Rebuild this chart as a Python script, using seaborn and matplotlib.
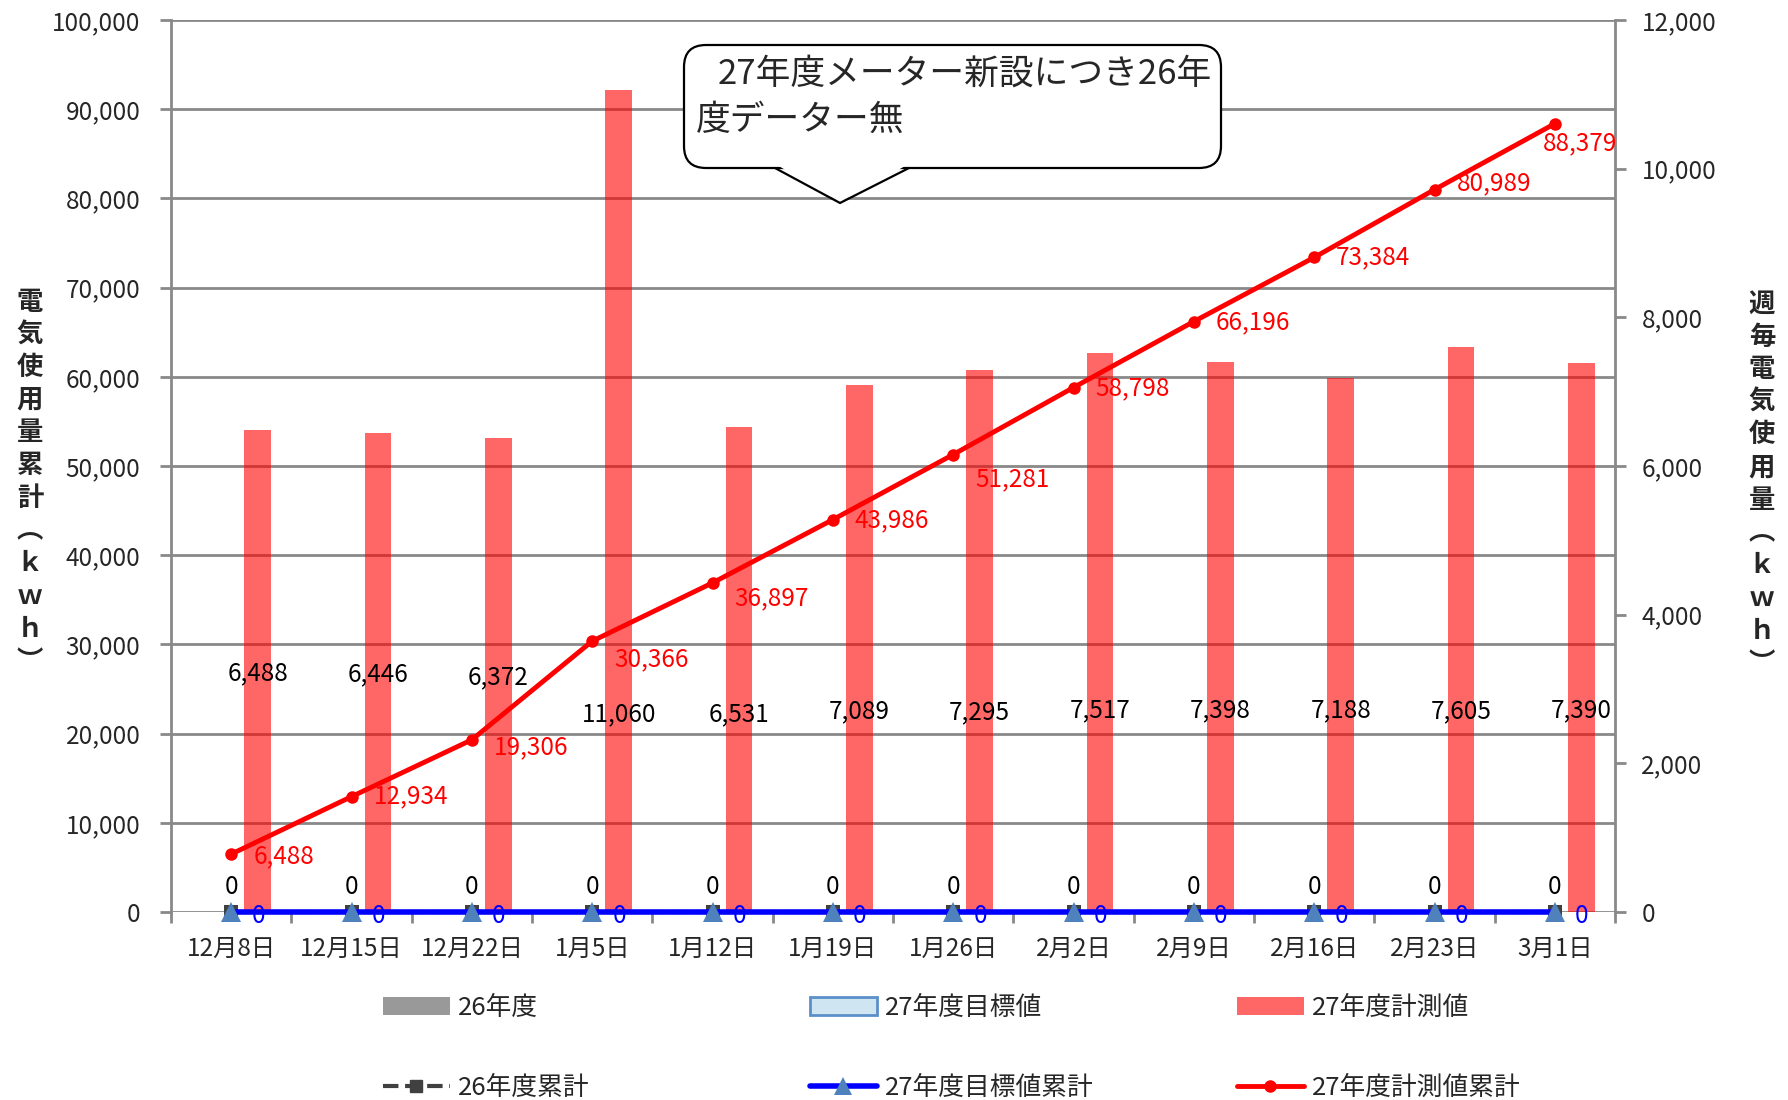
import numpy as np
import pandas as pd
import matplotlib
matplotlib.use("Agg")
import matplotlib.pyplot as plt
import seaborn as sns
from matplotlib.patches import Patch, FancyBboxPatch, Polygon
from matplotlib.lines import Line2D
from matplotlib.ticker import FuncFormatter, FixedLocator

# ---------------- data ----------------
dates = ["12月8日", "12月15日", "12月22日", "1月5日", "1月12日", "1月19日",
         "1月26日", "2月2日", "2月9日", "2月16日", "2月23日", "3月1日"]
weekly_26 = [0] * 12                      # 26年度
weekly_27_target = [0] * 12               # 27年度目標値
weekly_27_measured = [6488, 6446, 6372, 11060, 6531, 7089, 7295, 7517, 7398, 7188, 7605, 7390]
cum_26 = [0] * 12                         # 26年度累計
cum_27_target = [0] * 12                  # 27年度目標値累計
cum_27_measured = [6488, 12934, 19306, 30366, 36897, 43986, 51281, 58798, 66196, 73384, 80989, 88379]

bar_series = ["26年度", "27年度目標値", "27年度計測値"]
line_series = ["26年度累計", "27年度目標値累計", "27年度計測値累計"]
callout_lines = ["27年度メーター新設につき26年", "度データー無"]
left_label = "電気使用量累計︵ｋｗｈ︶"
right_label = "週毎電気使用量︵ｋｗｈ︶"

# layout helpers (label placement, not data)
weekly_label_y = [26800, 26700, 26350, 22200, 22200, 22500, 22420, 22600, 22600, 22600, 22500, 22600]
cum_label_dx = [22, 22, 22, 22, 22, 22, 22, 22, 22, 22, 22, -12]
cum_label_dy = [2, 0, 7, 18, 15, 1, 25, 1, 1, 0, -6, 20]

# ---------------- style ----------------
sns.set_style("white")
plt.rcParams["font.family"] = ["Noto Sans CJK JP", "DejaVu Sans"]
GRID = "#898989"
FS = 17.5
W, H = 1788, 1100
fig = plt.figure(figsize=(W / 100, H / 100), dpi=100)

def fx(px):
    return px / W

def fy(py):
    return 1 - py / H

L, R, T, B = 171, 1615, 20, 912
ax = fig.add_axes([fx(L), fy(B), fx(R - L), (B - T) / H])
ax2 = ax.twinx()
ax3 = ax.twinx()

n = len(dates)
xpos = np.arange(n)

# ---------------- bars (right axis) ----------------
df = pd.DataFrame({
    "date": dates * 3,
    "value": weekly_26 + weekly_27_target + weekly_27_measured,
    "series": [bar_series[0]] * n + [bar_series[1]] * n + [bar_series[2]] * n,
})
sns.barplot(data=df, x="date", y="value", hue="series", hue_order=bar_series,
            palette=["#999999", "#CFE6F2", "#FF0000"], saturation=1, width=0.66, gap=0,
            alpha=0.6, ax=ax2, legend=False, linewidth=0)
ax2.set_ylim(0, 12000)
ax2.set_yticks(np.arange(0, 12001, 2000))
ax2.yaxis.set_major_formatter(FuncFormatter(lambda v, p: f"{int(v):,}"))
ax2.set_xlabel("")
ax2.set_ylabel("")
ax2.tick_params(axis="y", direction="out", length=8, width=2, color=GRID, pad=11,
                labelsize=FS, right=True, labelright=True, left=False, labelleft=False)
for s in ax2.spines.values():
    s.set_visible(False)

# ---------------- left axis ----------------
ax.set_ylim(0, 100000)
ax.set_yticks(np.arange(0, 100001, 10000))
ax.yaxis.set_major_formatter(FuncFormatter(lambda v, p: f"{int(v):,}"))
ax.yaxis.grid(True, color=GRID, linewidth=2)
ax.xaxis.grid(False)
ax.set_axisbelow(True)
ax.tick_params(axis="y", direction="out", length=8, width=2, color=GRID, pad=14, labelsize=FS)
for side in ["top", "bottom"]:
    ax.spines[side].set_visible(False)
for side in ["left", "right"]:
    ax.spines[side].set_color(GRID)
    ax.spines[side].set_linewidth(2)
ax.set_xlim(-0.5, n - 0.5)
ax.xaxis.set_major_locator(FixedLocator(xpos))
ax.set_xticklabels(dates)
ax.xaxis.set_minor_locator(FixedLocator(np.arange(-0.5, n, 1.0)))
ax.tick_params(axis="x", which="major", length=0, pad=17, labelsize=FS)
ax.tick_params(axis="x", which="minor", direction="out", length=8, width=2, color=GRID, bottom=True)

# ---------------- lines (top axis, left scale) ----------------
ax3.set_ylim(0, 100000)
ax3.set_xlim(-0.5, n - 0.5)
ax3.yaxis.set_visible(False)
for s in ax3.spines.values():
    s.set_visible(False)

sns.lineplot(x=xpos, y=cum_26, ax=ax3, color="#404040", linestyle="--", linewidth=3,
             marker="s", markersize=10, markeredgewidth=0, clip_on=False)
sns.lineplot(x=xpos, y=cum_27_target, ax=ax3, color="#0000FF", linewidth=4,
             marker="^", markersize=15, markerfacecolor="#4F81BD", markeredgewidth=0, clip_on=False)
sns.lineplot(x=xpos, y=cum_27_measured, ax=ax3, color="#FF0000", linewidth=3.5,
             marker="o", markersize=9, markeredgewidth=0, clip_on=False)

# cumulative labels
for i in range(n):
    ax3.annotate(f"{cum_27_measured[i]:,}", (xpos[i], cum_27_measured[i]),
                 xytext=(cum_label_dx[i], -cum_label_dy[i]), textcoords="offset pixels",
                 ha="left", va="center", color="#FF0000", fontsize=FS)
    ax3.annotate(f"{cum_26[i]:,}", (xpos[i], cum_26[i]), xytext=(0, 25),
                 textcoords="offset pixels", ha="center", va="center", color="black", fontsize=FS)
    ax3.annotate(f"{cum_27_target[i]:,}", (xpos[i], cum_27_target[i]), xytext=(27, -4),
                 textcoords="offset pixels", ha="center", va="center", color="#0000FF", fontsize=FS)

# weekly measured labels (centred over measured bars)
meas_bars = ax2.containers[2]
for i, bar in enumerate(meas_bars):
    xc = bar.get_x() + bar.get_width() / 2
    ax3.text(xc, weekly_label_y[i], f"{weekly_27_measured[i]:,}", ha="center", va="center",
             color="black", fontsize=FS)

# ---------------- axis titles (stacked vertical) ----------------
fig.text(fx(30), fy(482), "\n".join(left_label), ha="center", va="center",
         fontsize=19, fontweight="bold", linespacing=1.27)
fig.text(fx(1762), fy(484), "\n".join(right_label), ha="center", va="center",
         fontsize=19, fontweight="bold", linespacing=1.27)

# ---------------- callout ----------------
tr = fig.dpi_scale_trans
def pin(px, py):
    return (px / 100, (H - py) / 100)

bx0, by0 = pin(684, 168)
bx1, by1 = pin(1221, 45)
box = FancyBboxPatch((bx0, by0), bx1 - bx0, by1 - by0,
                     boxstyle="round,pad=0,rounding_size=0.22", transform=tr,
                     facecolor="white", edgecolor="black", linewidth=1.6, zorder=5)
fig.add_artist(box)
cover = Polygon([pin(777, 165), pin(907, 165), pin(840, 202)], closed=True, transform=tr,
                facecolor="white", edgecolor="none", zorder=6)
fig.add_artist(cover)
ptr = Line2D([pin(775, 168)[0], pin(840, 203)[0], pin(909, 168)[0]],
             [pin(775, 168)[1], pin(840, 203)[1], pin(909, 168)[1]],
             transform=tr, color="black", linewidth=1.6, zorder=7)
fig.add_artist(ptr)
fig.text(fx(718), fy(74), callout_lines[0], ha="left", va="center", fontsize=25, zorder=8)
fig.text(fx(696), fy(120), callout_lines[1], ha="left", va="center", fontsize=25, zorder=8)

# ---------------- legend ----------------
h_bar = [Patch(facecolor="#999999", edgecolor="none"),
         Patch(facecolor="#CFE6F2", edgecolor="#5B8FC9", linewidth=2),
         Patch(facecolor="#FF6666", edgecolor="none")]
h_line = [Line2D([], [], color="#404040", linestyle="--", linewidth=3, marker="s", markersize=9),
          Line2D([], [], color="#0000FF", linewidth=4, marker="^", markersize=13,
                 markerfacecolor="#4F81BD", markeredgewidth=0),
          Line2D([], [], color="#FF0000", linewidth=3.5, marker="o", markersize=8)]
col_x = [383, 810, 1237]
for k in range(3):
    fig.legend([h_bar[k], h_line[k]], [bar_series[k], line_series[k]],
               loc="center left", bbox_to_anchor=(fx(col_x[k]), fy(1048)),
               frameon=False, fontsize=18.5, handlelength=2.6, handletextpad=0.3,
               labelspacing=2.12, borderpad=0, borderaxespad=0)

fig.savefig("out.png", dpi=100)
